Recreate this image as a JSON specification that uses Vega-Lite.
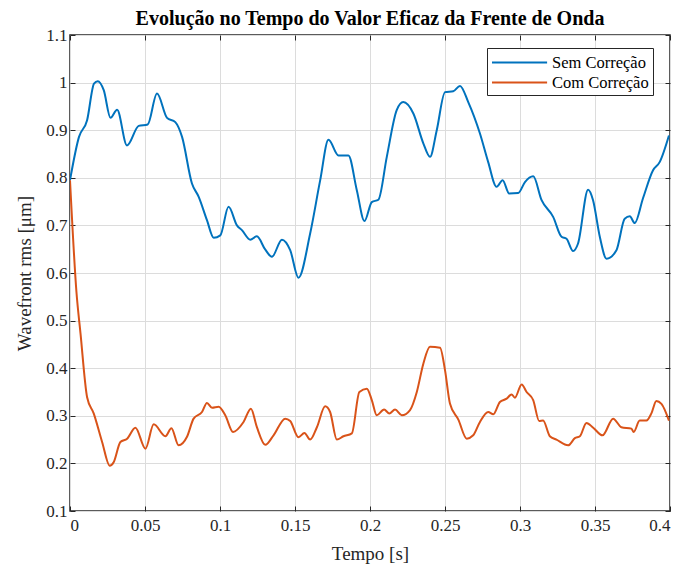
{
  "$schema": "https://vega.github.io/schema/vega-lite/v6.json",
  "autosize": "none",
  "width": 600,
  "height": 476,
  "padding": {"left": 70, "top": 35, "right": 11, "bottom": 57},
  "background": "white",
  "title": {"text": "Evolução no Tempo do Valor Eficaz da Frente de Onda", "font": "Liberation Serif", "fontSize": 20, "fontWeight": "bold", "color": "#000000", "anchor": "middle", "offset": -3},
  "config": {
    "view": {"stroke": "#262626", "strokeWidth": 1.5},
    "axis": {"labelFont": "Liberation Serif", "titleFont": "Liberation Serif", "labelFontSize": 17, "titleFontSize": 19, "titleFontWeight": "normal", "labelColor": "#262626", "titleColor": "#262626", "gridColor": "#dcdcdc", "gridWidth": 1, "gridOpacity": 1, "domain": false, "tickColor": "#262626", "tickSize": -5, "tickWidth": 1},
    "legend": {"labelFont": "Liberation Serif", "labelFontSize": 16, "labelColor": "#000000"}
  },
  "data": {"values": [
    {"s":"Sem Correção","t":0,"v":0.795},{"s":"Sem Correção","t":0.006,"v":0.886},{"s":"Sem Correção","t":0.0114,"v":0.921},{"s":"Sem Correção","t":0.016,"v":0.998},{"s":"Sem Correção","t":0.0185,"v":1.003},{"s":"Sem Correção","t":0.0225,"v":0.984},{"s":"Sem Correção","t":0.027,"v":0.926},{"s":"Sem Correção","t":0.0314,"v":0.943},{"s":"Sem Correção","t":0.038,"v":0.868},{"s":"Sem Correção","t":0.0458,"v":0.909},{"s":"Sem Correção","t":0.0518,"v":0.912},{"s":"Sem Correção","t":0.058,"v":0.977},{"s":"Sem Correção","t":0.0647,"v":0.926},{"s":"Sem Correção","t":0.0702,"v":0.917},{"s":"Sem Correção","t":0.0747,"v":0.886},{"s":"Sem Correção","t":0.0813,"v":0.788},{"s":"Sem Correção","t":0.0858,"v":0.76},{"s":"Sem Correção","t":0.0913,"v":0.711},{"s":"Sem Correção","t":0.0958,"v":0.674},{"s":"Sem Correção","t":0.1002,"v":0.679},{"s":"Sem Correção","t":0.1057,"v":0.739},{"s":"Sem Correção","t":0.1113,"v":0.7},{"s":"Sem Correção","t":0.1146,"v":0.69},{"s":"Sem Correção","t":0.1202,"v":0.67},{"s":"Sem Correção","t":0.1246,"v":0.677},{"s":"Sem Correção","t":0.13,"v":0.65},{"s":"Sem Correção","t":0.1346,"v":0.634},{"s":"Sem Correção","t":0.1413,"v":0.67},{"s":"Sem Correção","t":0.1468,"v":0.648},{"s":"Sem Correção","t":0.1523,"v":0.59},{"s":"Sem Correção","t":0.1601,"v":0.683},{"s":"Sem Correção","t":0.1668,"v":0.795},{"s":"Sem Correção","t":0.1723,"v":0.88},{"s":"Sem Correção","t":0.179,"v":0.847},{"s":"Sem Correção","t":0.1856,"v":0.847},{"s":"Sem Correção","t":0.1912,"v":0.774},{"s":"Sem Correção","t":0.1963,"v":0.709},{"s":"Sem Correção","t":0.2012,"v":0.749},{"s":"Sem Correção","t":0.2056,"v":0.754},{"s":"Sem Correção","t":0.2112,"v":0.844},{"s":"Sem Correção","t":0.2178,"v":0.942},{"s":"Sem Correção","t":0.2222,"v":0.959},{"s":"Sem Correção","t":0.2289,"v":0.935},{"s":"Sem Correção","t":0.2356,"v":0.872},{"s":"Sem Correção","t":0.24,"v":0.844},{"s":"Sem Correção","t":0.2445,"v":0.9},{"s":"Sem Correção","t":0.25,"v":0.98},{"s":"Sem Correção","t":0.2555,"v":0.982},{"s":"Sem Correção","t":0.26,"v":0.993},{"s":"Sem Correção","t":0.2655,"v":0.959},{"s":"Sem Correção","t":0.2733,"v":0.893},{"s":"Sem Correção","t":0.2788,"v":0.833},{"s":"Sem Correção","t":0.2844,"v":0.781},{"s":"Sem Correção","t":0.2884,"v":0.795},{"s":"Sem Correção","t":0.2928,"v":0.767},{"s":"Sem Correção","t":0.2988,"v":0.768},{"s":"Sem Correção","t":0.3033,"v":0.791},{"s":"Sem Correção","t":0.3088,"v":0.803},{"s":"Sem Correção","t":0.3144,"v":0.753},{"s":"Sem Correção","t":0.3221,"v":0.718},{"s":"Sem Correção","t":0.3277,"v":0.676},{"s":"Sem Correção","t":0.331,"v":0.672},{"s":"Sem Correção","t":0.3354,"v":0.646},{"s":"Sem Correção","t":0.3387,"v":0.662},{"s":"Sem Correção","t":0.3454,"v":0.775},{"s":"Sem Correção","t":0.3487,"v":0.753},{"s":"Sem Correção","t":0.3532,"v":0.676},{"s":"Sem Correção","t":0.3577,"v":0.63},{"s":"Sem Correção","t":0.3643,"v":0.648},{"s":"Sem Correção","t":0.3698,"v":0.714},{"s":"Sem Correção","t":0.3732,"v":0.719},{"s":"Sem Correção","t":0.3765,"v":0.705},{"s":"Sem Correção","t":0.382,"v":0.757},{"s":"Sem Correção","t":0.3887,"v":0.816},{"s":"Sem Correção","t":0.3931,"v":0.833},{"s":"Sem Correção","t":0.3993,"v":0.889},
    {"s":"Com Correção","t":0,"v":0.795},{"s":"Com Correção","t":0.0043,"v":0.56},{"s":"Com Correção","t":0.007,"v":0.473},{"s":"Com Correção","t":0.0114,"v":0.339},{"s":"Com Correção","t":0.0158,"v":0.305},{"s":"Com Correção","t":0.0214,"v":0.245},{"s":"Com Correção","t":0.0265,"v":0.195},{"s":"Com Correção","t":0.0292,"v":0.203},{"s":"Com Correção","t":0.0336,"v":0.245},{"s":"Com Correção","t":0.0381,"v":0.252},{"s":"Com Correção","t":0.0436,"v":0.275},{"s":"Com Correção","t":0.0503,"v":0.231},{"s":"Com Correção","t":0.0558,"v":0.282},{"s":"Com Correção","t":0.0636,"v":0.257},{"s":"Com Correção","t":0.0676,"v":0.274},{"s":"Com Correção","t":0.0724,"v":0.238},{"s":"Com Correção","t":0.078,"v":0.256},{"s":"Com Correção","t":0.0824,"v":0.294},{"s":"Com Correção","t":0.088,"v":0.308},{"s":"Com Correção","t":0.0913,"v":0.327},{"s":"Com Correção","t":0.0947,"v":0.317},{"s":"Com Correção","t":0.0991,"v":0.319},{"s":"Com Correção","t":0.1035,"v":0.301},{"s":"Com Correção","t":0.1087,"v":0.266},{"s":"Com Correção","t":0.1157,"v":0.287},{"s":"Com Correção","t":0.1206,"v":0.315},{"s":"Com Correção","t":0.1246,"v":0.276},{"s":"Com Correção","t":0.1302,"v":0.239},{"s":"Com Correção","t":0.1357,"v":0.259},{"s":"Com Correção","t":0.1435,"v":0.294},{"s":"Com Correção","t":0.1468,"v":0.289},{"s":"Com Correção","t":0.1523,"v":0.255},{"s":"Com Correção","t":0.1563,"v":0.264},{"s":"Com Correção","t":0.1601,"v":0.25},{"s":"Com Correção","t":0.1646,"v":0.276},{"s":"Com Correção","t":0.1701,"v":0.32},{"s":"Com Correção","t":0.1734,"v":0.308},{"s":"Com Correção","t":0.1779,"v":0.25},{"s":"Com Correção","t":0.1823,"v":0.257},{"s":"Com Correção","t":0.1879,"v":0.263},{"s":"Com Correção","t":0.1929,"v":0.35},{"s":"Com Correção","t":0.1979,"v":0.357},{"s":"Com Correção","t":0.2012,"v":0.333},{"s":"Com Correção","t":0.2045,"v":0.301},{"s":"Com Correção","t":0.2094,"v":0.313},{"s":"Com Correção","t":0.2129,"v":0.305},{"s":"Com Correção","t":0.2167,"v":0.313},{"s":"Com Correção","t":0.2212,"v":0.301},{"s":"Com Correção","t":0.2267,"v":0.312},{"s":"Com Correção","t":0.2312,"v":0.35},{"s":"Com Correção","t":0.2356,"v":0.41},{"s":"Com Correção","t":0.24,"v":0.445},{"s":"Com Correção","t":0.2467,"v":0.443},{"s":"Com Correção","t":0.25,"v":0.396},{"s":"Com Correção","t":0.2533,"v":0.326},{"s":"Com Correção","t":0.2589,"v":0.292},{"s":"Com Correção","t":0.2645,"v":0.252},{"s":"Com Correção","t":0.2688,"v":0.259},{"s":"Com Correção","t":0.2733,"v":0.287},{"s":"Com Correção","t":0.2788,"v":0.308},{"s":"Com Correção","t":0.2822,"v":0.303},{"s":"Com Correção","t":0.2866,"v":0.329},{"s":"Com Correção","t":0.2911,"v":0.336},{"s":"Com Correção","t":0.2944,"v":0.345},{"s":"Com Correção","t":0.2966,"v":0.338},{"s":"Com Correção","t":0.3011,"v":0.366},{"s":"Com Correção","t":0.3044,"v":0.35},{"s":"Com Correção","t":0.3088,"v":0.333},{"s":"Com Correção","t":0.3128,"v":0.289},{"s":"Com Correção","t":0.3154,"v":0.29},{"s":"Com Correção","t":0.3199,"v":0.257},{"s":"Com Correção","t":0.3243,"v":0.25},{"s":"Com Correção","t":0.3321,"v":0.238},{"s":"Com Correção","t":0.3366,"v":0.253},{"s":"Com Correção","t":0.3399,"v":0.257},{"s":"Com Correção","t":0.3443,"v":0.285},{"s":"Com Correção","t":0.3488,"v":0.275},{"s":"Com Correção","t":0.355,"v":0.259},{"s":"Com Correção","t":0.3621,"v":0.294},{"s":"Com Correção","t":0.3676,"v":0.276},{"s":"Com Correção","t":0.3743,"v":0.273},{"s":"Com Correção","t":0.3758,"v":0.266},{"s":"Com Correção","t":0.3798,"v":0.29},{"s":"Com Correção","t":0.3843,"v":0.29},{"s":"Com Correção","t":0.3876,"v":0.305},{"s":"Com Correção","t":0.3909,"v":0.331},{"s":"Com Correção","t":0.3943,"v":0.325},{"s":"Com Correção","t":0.3993,"v":0.29}
  ]},
  "layer": [
    {
      "mark": {"type": "line", "strokeWidth": 2, "interpolate": "monotone", "clip": true},
      "encoding": {
        "x": {"field": "t", "type": "quantitative", "scale": {"domain": [0, 0.4], "nice": false, "zero": false}, "axis": {"title": "Tempo [s]", "labelFont": "Liberation Serif", "titleFont": "Liberation Serif", "values": [0, 0.05, 0.1, 0.15, 0.2, 0.25, 0.3, 0.35, 0.4], "format": "~g", "labelPadding": 11, "titlePadding": 11}},
        "y": {"field": "v", "type": "quantitative", "scale": {"domain": [0.1, 1.1], "nice": false, "zero": false}, "axis": {"title": "Wavefront rms [μm]", "labelFont": "Liberation Serif", "titleFont": "Liberation Serif", "values": [0.1, 0.2, 0.3, 0.4, 0.5, 0.6, 0.7, 0.8, 0.9, 1, 1.1], "format": "~g", "labelPadding": 8, "titlePadding": 11}},
        "color": {"field": "s", "type": "nominal", "scale": {"domain": ["Sem Correção", "Com Correção"], "range": ["#0072BD", "#D95319"]},
          "legend": {"title": null, "orient": "none", "legendX": 417, "legendY": 13, "symbolType": "M-1,0H4.8", "symbolSize": 361, "symbolStrokeWidth": 2, "symbolFillColor": "transparent", "labelFont": "Liberation Serif", "labelFontSize": 16.5, "labelColor": "#000000", "strokeColor": "#262626", "fillColor": "white", "padding": 4, "rowPadding": 1, "labelOffset": 40, "labelLimit": 200}}
      }
    },
    {
      "mark": {"type": "line", "opacity": 0},
      "encoding": {
        "x": {"field": "t", "type": "quantitative", "axis": {"orient": "top", "title": null, "labels": false, "grid": false, "values": [0, 0.05, 0.1, 0.15, 0.2, 0.25, 0.3, 0.35, 0.4]}},
        "y": {"field": "v", "type": "quantitative", "axis": {"orient": "right", "title": null, "labels": false, "grid": false, "values": [0.1, 0.2, 0.3, 0.4, 0.5, 0.6, 0.7, 0.8, 0.9, 1, 1.1]}}
      }
    }
  ],
  "resolve": {"axis": {"x": "independent", "y": "independent"}}
}
